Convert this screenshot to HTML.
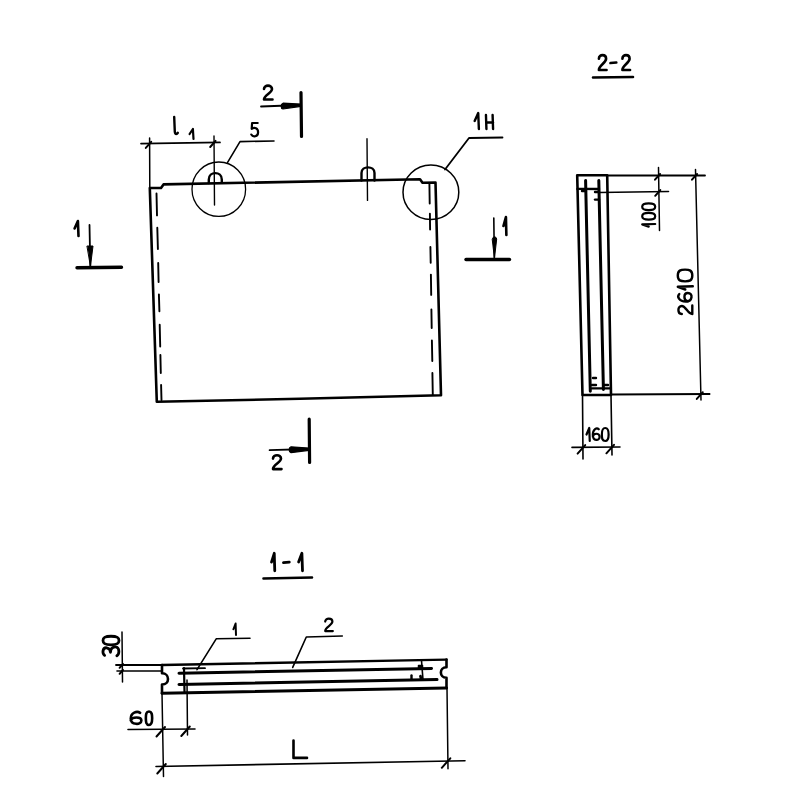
<!DOCTYPE html>
<html><head><meta charset="utf-8"><style>
html,body{margin:0;padding:0;background:#fff;width:800px;height:800px;overflow:hidden}
svg{display:block}
</style></head><body>
<svg width="800" height="800" viewBox="0 0 800 800">
<rect width="800" height="800" fill="#fff"/>
<g fill="none" stroke="#000" stroke-linecap="round" stroke-linejoin="round">
<path d="M149.8,188.0 L161.0,188.0 L163.5,184.4 L420.0,179.3 L422.5,182.8 L435.5,182.5 L441.0,395.2 L300.0,398.8 L156.8,401.8 L149.8,188.0" stroke-width="2.6" stroke-linejoin="round"/>
<path d="M156.5,193.4 L157.0,215.4" stroke-width="1.9" />
<path d="M157.3,227.7 L157.9,249.0" stroke-width="1.9" />
<path d="M158.2,262.9 L158.6,282.0" stroke-width="1.9" />
<path d="M158.9,294.4 L159.4,311.2" stroke-width="1.9" />
<path d="M159.7,324.7 L160.2,346.5" stroke-width="1.9" />
<path d="M160.4,355.0 L160.8,373.0" stroke-width="1.9" />
<path d="M161.1,385.0 L161.5,400.0" stroke-width="1.9" />
<path d="M429.4,183.0 L429.7,203.5" stroke-width="1.9" />
<path d="M429.9,213.7 L430.1,229.5" stroke-width="1.9" />
<path d="M430.4,247.0 L430.7,262.7" stroke-width="1.9" />
<path d="M430.9,274.6 L431.2,294.9" stroke-width="1.9" />
<path d="M431.4,309.5 L431.7,328.0" stroke-width="1.9" />
<path d="M431.9,340.4 L432.3,361.0" stroke-width="1.9" />
<path d="M432.4,373.0 L432.8,395.0" stroke-width="1.9" />
<path d="M208.8,183 L208.8,179.5 C208.8,171 221.8,171 221.8,179.5 L221.8,182.8" stroke-width="2.4" />
<path d="M361.5,180.6 L361.5,173 C361.5,165.5 374.5,165.5 374.5,173 L374.5,180.5" stroke-width="2.4" />
<path d="M214.0,136.0 L214.5,205.0" stroke-width="1.4" />
<path d="M367.0,138.7 L367.5,200.4" stroke-width="1.4" />
<ellipse cx="218.8" cy="189.2" rx="26.8" ry="27.2" stroke-width="1.3"/>
<ellipse cx="430.9" cy="192.3" rx="27.9" ry="27.2" stroke-width="1.5"/>
<path d="M227.6,162.4 L240.0,141.6 L274.0,141.0" stroke-width="1.6" />
<path d="M445.0,169.5 L469.0,138.0 L502.5,137.5" stroke-width="1.8" />
<path d="M141.0,143.6 L220.0,142.4" stroke-width="1.7" />
<path d="M149.6,138.0 L149.8,188.0" stroke-width="1.5" />
<path d="M145.8,147.9 L151.2,141.8" stroke-width="2.0" />
<path d="M210.2,147.0 L215.6,140.9" stroke-width="2.0" />
<g transform="translate(173,117)"><path transform="translate(0.00,0) scale(0.600,1.133)" d="M2,0 L3,13 C3.5,16 7,15 8,14" vector-effect="non-scaling-stroke" stroke-width="2.4"/></g>
<g transform="translate(189,129)"><path transform="translate(0.00,0) scale(0.600,0.667)" d="M1,7.5 L6.5,0 L7.5,15" vector-effect="non-scaling-stroke" stroke-width="2.2"/></g>
<g transform="translate(250.5,122.5)"><path transform="translate(0.00,0) scale(0.800,0.967)" d="M9,0.5 L2,0.5 L1.5,6.5 C5,4.5 9.5,6 9.5,10 C9.5,15 3,15.5 1,12.5" vector-effect="non-scaling-stroke" stroke-width="2.2"/></g>
<g transform="translate(474,113)"><path transform="translate(0.00,0) scale(0.650,1.067)" d="M1,7.5 L6.5,0 L7.5,15" vector-effect="non-scaling-stroke" stroke-width="2.4"/></g>
<g transform="translate(485,115)"><path transform="translate(0.00,0) scale(0.950,0.933)" d="M1,0 L1.5,15 M1.5,8 L8.5,8 M8,0 L8.5,15" vector-effect="non-scaling-stroke" stroke-width="2.4"/></g>
<path d="M301.0,92.5 L301.5,136.5" stroke-width="3.2" />
<path d="M261.0,106.5 L301.0,105.0" stroke-width="1.8" />
<path d="M283,103.2 C280.5,104 280.5,108.5 283,109 L301,106.3 L301,104 Z" stroke-width="1.2" fill="#000"/>
<g transform="translate(263,85)"><path transform="translate(0.00,0) scale(1.000,1.000)" d="M1,4 C1,-0.5 9,-0.5 9,4 C9,8 1,10 1,14.5 L9.5,14.5" vector-effect="non-scaling-stroke" stroke-width="2.6"/></g>
<path d="M309.2,419.2 L309.6,462.5" stroke-width="3.2" />
<path d="M269.6,450.2 L309.4,449.0" stroke-width="1.8" />
<path d="M291,446.8 C288.5,447.6 288.5,452.2 291,452.7 L309,450.3 L309,448 Z" stroke-width="1.2" fill="#000"/>
<g transform="translate(272,454.6)"><path transform="translate(0.00,0) scale(1.000,1.000)" d="M1,4 C1,-0.5 9,-0.5 9,4 C9,8 1,10 1,14.5 L9.5,14.5" vector-effect="non-scaling-stroke" stroke-width="2.6"/></g>
<path d="M77.0,267.7 L121.5,267.3" stroke-width="3.4" />
<path d="M89.5,225.0 L90.3,266.0" stroke-width="1.8" />
<path d="M87.3,246 L93,246 L90.5,266 Z" stroke-width="1" fill="#000"/>
<g transform="translate(74,221)"><path transform="translate(0.00,0) scale(0.600,1.000)" d="M1,7.5 L6.5,0 L7.5,15" vector-effect="non-scaling-stroke" stroke-width="2.6"/></g>
<path d="M466.0,259.5 L509.5,259.5" stroke-width="3.4" />
<path d="M493.8,218.0 L494.3,258.0" stroke-width="1.6" />
<path d="M492.3,239 C493,236 496,236 496.7,239 L494.5,258 Z" stroke-width="1" fill="#000"/>
<g transform="translate(503,217)"><path transform="translate(0.00,0) scale(0.450,1.200)" d="M1,7.5 L6.5,0 L7.5,15" vector-effect="non-scaling-stroke" stroke-width="2.6"/></g>
<g transform="translate(598,54.5)"><path transform="translate(0.00,0) scale(0.900,1.067)" d="M1,4 C1,-0.5 9,-0.5 9,4 C9,8 1,10 1,14.5 L9.5,14.5" vector-effect="non-scaling-stroke" stroke-width="2.6"/></g>
<g transform="translate(610,54.5)"><path transform="translate(0.00,0) scale(0.900,1.067)" d="M0.5,8 L7,7.5" vector-effect="non-scaling-stroke" stroke-width="2.6"/></g>
<g transform="translate(621.5,54.5)"><path transform="translate(0.00,0) scale(0.900,1.067)" d="M1,4 C1,-0.5 9,-0.5 9,4 C9,8 1,10 1,14.5 L9.5,14.5" vector-effect="non-scaling-stroke" stroke-width="2.6"/></g>
<path d="M593.0,77.5 L633.0,77.0" stroke-width="2.6" />
<path d="M577.2,175.3 L607.2,175.3 L611.0,395.0 L582.5,395.0 L577.2,175.3" stroke-width="2.6" stroke-linejoin="round"/>
<path d="M585.6,180.6 L590.3,391.2" stroke-width="3.0" />
<path d="M598.8,180.6 L603.4,389.4" stroke-width="3.0" />
<path d="M577.5,188.9 L599.0,189.0" stroke-width="2.4" />
<path d="M592.0,388.4 L610.0,388.4" stroke-width="2.4" />
<path d="M582.0,191.0 L586.0,191.0" stroke-width="2.4" />
<path d="M595.0,192.0 L599.0,192.0" stroke-width="2.4" />
<path d="M595.0,199.6 L599.0,199.6" stroke-width="2.4" />
<path d="M593.0,378.0 L596.0,378.0" stroke-width="2.4" />
<path d="M592.0,385.0 L596.0,385.0" stroke-width="2.4" />
<path d="M604.0,385.0 L608.0,385.0" stroke-width="2.4" />
<path d="M607.2,175.5 L705.0,175.5" stroke-width="1.8" />
<path d="M599.0,192.5 L668.5,191.5" stroke-width="1.6" />
<path d="M611.0,394.5 L709.6,394.0" stroke-width="1.8" />
<path d="M658.5,167.5 L659.5,230.6" stroke-width="1.5" />
<path d="M695.5,169.5 L701.0,400.0" stroke-width="1.5" />
<path d="M655.0,179.7 L660.1,174.0" stroke-width="2.0" />
<path d="M655.2,195.8 L660.3,190.1" stroke-width="2.0" />
<path d="M692.0,179.7 L697.1,174.0" stroke-width="2.0" />
<path d="M696.8,398.9 L702.8,392.2" stroke-width="2.0" />
<path d="M582.5,395.0 L583.0,459.0" stroke-width="1.6" />
<path d="M611.0,395.0 L612.0,455.0" stroke-width="1.6" />
<path d="M572.0,447.4 L620.0,447.0" stroke-width="1.6" />
<path d="M577.6,453.6 L585.2,445.1" stroke-width="2.0" />
<path d="M606.4,453.3 L614.0,444.8" stroke-width="2.0" />
<g transform="translate(586,428)"><path transform="translate(0.00,0) scale(0.500,0.867)" d="M1,7.5 L6.5,0 L7.5,15" vector-effect="non-scaling-stroke" stroke-width="2.2"/></g>
<g transform="translate(592,428)"><path transform="translate(0.00,0) scale(0.800,0.867)" d="M8.5,1.5 C6,-1 1,1 1,8 C1,15 9.5,15.5 9.5,10 C9.5,5.5 2,5.5 1,10" vector-effect="non-scaling-stroke" stroke-width="2.2"/></g>
<g transform="translate(601.5,428)"><path transform="translate(0.00,0) scale(0.750,0.867)" d="M5,0 C9,0 9.5,3 9.5,7.5 C9.5,12 9,15 5,15 C1,15 0.5,12 0.5,7.5 C0.5,3 1,0 5,0 Z" vector-effect="non-scaling-stroke" stroke-width="2.2"/></g>
<g transform="translate(642.2,227) rotate(-90)"><path transform="translate(0.00,0) scale(0.400,0.867)" d="M1,7.5 L6.5,0 L7.5,15" vector-effect="non-scaling-stroke" stroke-width="2.2"/></g>
<g transform="translate(642.2,220) rotate(-90)"><path transform="translate(0.00,0) scale(0.750,0.867)" d="M5,0 C9,0 9.5,3 9.5,7.5 C9.5,12 9,15 5,15 C1,15 0.5,12 0.5,7.5 C0.5,3 1,0 5,0 Z" vector-effect="non-scaling-stroke" stroke-width="2.2"/></g>
<g transform="translate(642.2,210.5) rotate(-90)"><path transform="translate(0.00,0) scale(0.750,0.867)" d="M5,0 C9,0 9.5,3 9.5,7.5 C9.5,12 9,15 5,15 C1,15 0.5,12 0.5,7.5 C0.5,3 1,0 5,0 Z" vector-effect="non-scaling-stroke" stroke-width="2.2"/></g>
<g transform="translate(677.8,315) rotate(-90)"><path transform="translate(0.00,0) scale(1.000,1.000)" d="M1,4 C1,-0.5 9,-0.5 9,4 C9,8 1,10 1,14.5 L9.5,14.5" vector-effect="non-scaling-stroke" stroke-width="2.4"/></g>
<g transform="translate(677.8,302.5) rotate(-90)"><path transform="translate(0.00,0) scale(1.000,1.000)" d="M8.5,1.5 C6,-1 1,1 1,8 C1,15 9.5,15.5 9.5,10 C9.5,5.5 2,5.5 1,10" vector-effect="non-scaling-stroke" stroke-width="2.4"/></g>
<g transform="translate(677.8,290) rotate(-90)"><path transform="translate(0.00,0) scale(0.500,1.000)" d="M1,7.5 L6.5,0 L7.5,15" vector-effect="non-scaling-stroke" stroke-width="2.4"/></g>
<g transform="translate(677.8,282) rotate(-90)"><path transform="translate(0.00,0) scale(1.300,0.967)" d="M5,0 C9,0 9.5,3 9.5,7.5 C9.5,12 9,15 5,15 C1,15 0.5,12 0.5,7.5 C0.5,3 1,0 5,0 Z" vector-effect="non-scaling-stroke" stroke-width="2.4"/></g>
<g transform="translate(271,553.3)"><path transform="translate(0.00,0) scale(0.500,1.167)" d="M1,7.5 L6.5,0 L7.5,15" vector-effect="non-scaling-stroke" stroke-width="2.8"/></g>
<g transform="translate(283,553.3)"><path transform="translate(0.00,0) scale(0.900,1.167)" d="M0.5,8 L7,7.5" vector-effect="non-scaling-stroke" stroke-width="2.8"/></g>
<g transform="translate(298,553.3)"><path transform="translate(0.00,0) scale(0.600,1.167)" d="M1,7.5 L6.5,0 L7.5,15" vector-effect="non-scaling-stroke" stroke-width="2.8"/></g>
<path d="M263.5,578.5 L312.0,577.5" stroke-width="2.6" />
<path d="M162.0,665.0 L446.5,659.6" stroke-width="2.4" />
<path d="M162.0,693.2 L446.5,688.0" stroke-width="3.0" />
<path d="M162,665 L162,673.3 C170,673.3 170,684.5 162,684.5 L162,693.2" stroke-width="2.6" />
<path d="M446.5,659.5 L446.5,667.3 C439,667.3 439,677.8 446.5,677.8 L446.5,688" stroke-width="2.6" />
<path d="M179.0,673.3 L431.5,668.4" stroke-width="3.0" />
<path d="M179.0,684.5 L437.0,679.6" stroke-width="3.0" />
<path d="M184.0,668.0 L184.5,692.0" stroke-width="2.2" />
<path d="M183.0,668.5 L205.0,668.2" stroke-width="1.8" />
<path d="M421.5,660.5 L423.0,680.0" stroke-width="1.6" />
<path d="M418.5,665.5 L422.5,665.5 L422.5,668.5 L418.5,668.5 Z" stroke-width="1.5" fill="#000"/>
<path d="M411.5,675.5 L411.5,678.5" stroke-width="2.4" />
<path d="M420.5,676.0 L421.0,679.0" stroke-width="2.6" />
<path d="M116.0,665.0 L162.0,665.0" stroke-width="1.8" />
<path d="M117.0,671.0 L162.0,671.0" stroke-width="1.6" />
<path d="M122.0,632.0 L122.5,682.0" stroke-width="1.5" />
<path d="M119.6,667.8 L123.0,664.0" stroke-width="2.0" />
<path d="M119.6,673.8 L123.0,670.0" stroke-width="2.0" />
<g transform="translate(103,656.3) rotate(-90)"><path transform="translate(0.00,0) scale(1.000,1.067)" d="M1,1.5 C3,-1 9,-0.5 8.5,3.5 C8,7 4,7 4,7 C9,7 10,11 9,13 C7.5,15.5 2,15.5 0.5,13" vector-effect="non-scaling-stroke" stroke-width="2.8"/></g>
<g transform="translate(103,645.3) rotate(-90)"><path transform="translate(0.00,0) scale(0.950,1.067)" d="M5,0 C9,0 9.5,3 9.5,7.5 C9.5,12 9,15 5,15 C1,15 0.5,12 0.5,7.5 C0.5,3 1,0 5,0 Z" vector-effect="non-scaling-stroke" stroke-width="2.8"/></g>
<path d="M197.0,669.7 L216.2,638.8 L250.0,638.2" stroke-width="1.6" />
<path d="M292.7,667.4 L306.3,637.0 L342.3,636.0" stroke-width="1.6" />
<g transform="translate(233,623.5)"><path transform="translate(0.00,0) scale(0.400,0.767)" d="M1,7.5 L6.5,0 L7.5,15" vector-effect="non-scaling-stroke" stroke-width="2.0"/></g>
<g transform="translate(324.3,618)"><path transform="translate(0.00,0) scale(0.900,0.900)" d="M1,4 C1,-0.5 9,-0.5 9,4 C9,8 1,10 1,14.5 L9.5,14.5" vector-effect="non-scaling-stroke" stroke-width="2.2"/></g>
<path d="M162.0,693.0 L163.5,776.6" stroke-width="1.5" />
<path d="M187.0,680.0 L187.5,735.0" stroke-width="1.5" />
<path d="M447.0,688.0 L448.0,768.7" stroke-width="1.5" />
<path d="M128.0,729.5 L195.0,729.0" stroke-width="1.6" />
<path d="M156.0,766.5 L465.0,760.7" stroke-width="1.6" />
<path d="M156.5,736.5 L165.0,727.0" stroke-width="2.0" />
<path d="M181.3,736.0 L189.8,726.5" stroke-width="2.0" />
<path d="M157.3,773.5 L165.8,764.0" stroke-width="2.0" />
<path d="M441.8,767.8 L450.3,758.3" stroke-width="2.0" />
<g transform="translate(129.5,711.5)"><path transform="translate(0.00,0) scale(1.250,0.900)" d="M8.5,1.5 C6,-1 1,1 1,8 C1,15 9.5,15.5 9.5,10 C9.5,5.5 2,5.5 1,10" vector-effect="non-scaling-stroke" stroke-width="2.6"/></g>
<g transform="translate(145.5,711.5)"><path transform="translate(0.00,0) scale(0.700,0.900)" d="M5,0 C9,0 9.5,3 9.5,7.5 C9.5,12 9,15 5,15 C1,15 0.5,12 0.5,7.5 C0.5,3 1,0 5,0 Z" vector-effect="non-scaling-stroke" stroke-width="2.6"/></g>
<g transform="translate(292,740.5)"><path transform="translate(0.00,0) scale(1.500,1.200)" d="M1,0 L1,14.5 L10,14.5" vector-effect="non-scaling-stroke" stroke-width="2.6"/></g>
</g>
</svg>
</body></html>
